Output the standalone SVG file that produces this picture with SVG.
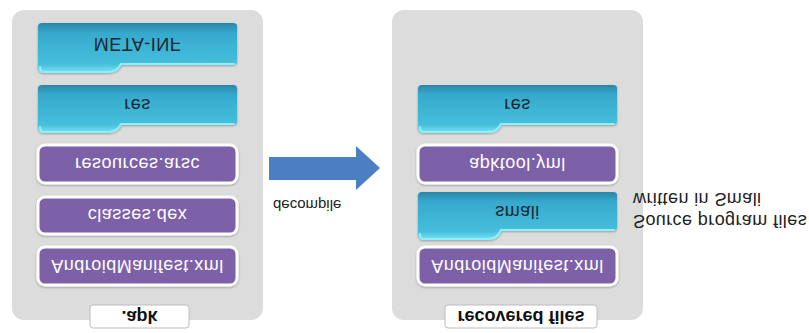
<svg xmlns="http://www.w3.org/2000/svg" width="809" height="333" viewBox="0 0 809 333">
  <style>
    .panel { fill: #dcdcdc; }
    .purple { fill: #7c60a8; stroke: #ffffff; stroke-width: 3; filter: url(#sh); }
    .cyan { fill: url(#cg); filter: url(#sh); }
    .hl { fill: none; stroke: #8ff0fb; stroke-width: 2; stroke-linecap: round; }
    .wt { font-family: "Liberation Sans", Arial, sans-serif; font-size: 18px; fill: #ffffff; text-anchor: middle; letter-spacing: 0.5px; }
    .dt { font-family: "Liberation Sans", Arial, sans-serif; font-size: 18px; fill: #1c2733; text-anchor: middle; letter-spacing: 0.5px; }
    .lbl { fill: #ffffff; stroke: #bdbdbd; stroke-width: 1; }
    .lt { font-family: "Liberation Sans", Arial, sans-serif; font-size: 18px; font-weight: bold; fill: #111; text-anchor: middle; }
    .side { font-family: "Liberation Sans", Arial, sans-serif; font-size: 18px; fill: #222; letter-spacing: 0.4px; }
    .cap { font-family: "Liberation Sans", Arial, sans-serif; font-size: 15px; fill: #222; }
  </style>
  <defs>
    <linearGradient id="cg" x1="0" y1="0" x2="0" y2="1">
      <stop offset="0" stop-color="#7fe3f3"/>
      <stop offset="0.18" stop-color="#45bfdc"/>
      <stop offset="0.8" stop-color="#36a9cc"/>
      <stop offset="1" stop-color="#2a86a8"/>
    </linearGradient>
    <filter id="sh" x="-5%" y="-10%" width="110%" height="125%">
      <feDropShadow dx="0" dy="-1" stdDeviation="1.2" flood-color="#000" flood-opacity="0.3"/>
    </filter>
  </defs>
  <rect width="809" height="333" fill="#ffffff"/>
  <g transform="matrix(1 0 0 -1 0 333)">
    <g id="apk-panel">
      <rect class="panel" x="12" y="13" width="251" height="310" rx="12"/>
    </g>
    <g id="recovered-panel">
      <rect class="panel" x="392" y="13" width="251" height="310" rx="12"/>
    </g>

    <g id="meta-inf">
      <path class="cyan" d="M44,260 L108,260 Q118,260 122,268 L233,268 Q237,268 237,272 L237,307 Q237,310 233,310 L42,310 Q38,310 38,306 L38,266 Q38,260 44,260 Z"/>
      <path class="hl" d="M40,266 Q40,261 44,261 L108,261 Q117,261 121,269 L234,269"/>
      <text class="dt" x="137.5" y="295.5">META-INF</text>
    </g>
    <g id="res-left">
      <path class="cyan" d="M44,200 L108,200 Q118,200 122,208 L233,208 Q237,208 237,212 L237,245 Q237,248 233,248 L42,248 Q38,248 38,244 L38,206 Q38,200 44,200 Z"/>
      <path class="hl" d="M40,206 Q40,201 44,201 L108,201 Q117,201 121,209 L234,209"/>
      <text class="dt" x="137.5" y="234">res</text>
    </g>
    <g id="resources-arsc">
      <rect class="purple" x="38" y="150" width="199" height="38" rx="7"/>
      <text class="wt" x="137.5" y="175.5">resources.arsc</text>
    </g>
    <g id="classes-dex">
      <rect class="purple" x="38" y="99" width="199" height="37" rx="7"/>
      <text class="wt" x="137.5" y="124">classes.dex</text>
    </g>
    <g id="manifest-left">
      <rect class="purple" x="38" y="48" width="199" height="38" rx="7"/>
      <text class="wt" x="137.5" y="73.5">AndroidManifest.xml</text>
    </g>
    <g id="apk-label">
      <rect class="lbl" x="90" y="5" width="99" height="23" rx="3"/>
      <text class="lt" x="139.5" y="22.5">.apk</text>
    </g>

    <g id="res-right">
      <path class="cyan" d="M424,200 L488,200 Q498,200 502,208 L613,208 Q617,208 617,212 L617,245 Q617,248 613,248 L422,248 Q418,248 418,244 L418,206 Q418,200 424,200 Z"/>
      <path class="hl" d="M420,206 Q420,201 424,201 L488,201 Q497,201 501,209 L614,209"/>
      <text class="dt" x="517.5" y="234">res</text>
    </g>
    <g id="apktool-yml">
      <rect class="purple" x="418" y="150" width="199" height="38" rx="7"/>
      <text class="wt" x="517.5" y="175.5">apktool.yml</text>
    </g>
    <g id="smali">
      <path class="cyan" d="M424,93 L488,93 Q498,93 502,102 L613,102 Q617,102 617,106 L617,138 Q617,141 613,141 L422,141 Q418,141 418,137 L418,99 Q418,93 424,93 Z"/>
      <path class="hl" d="M420,99 Q420,94 424,94 L488,94 Q497,94 501,103 L614,103"/>
      <text class="dt" x="517.5" y="127">smali</text>
    </g>
    <g id="manifest-right">
      <rect class="purple" x="418" y="48" width="199" height="38" rx="7"/>
      <text class="wt" x="517.5" y="73.5">AndroidManifest.xml</text>
    </g>
    <g id="recovered-label">
      <rect class="lbl" x="445" y="5" width="152" height="23" rx="3"/>
      <text class="lt" x="521" y="22.5">recovered files</text>
    </g>

    <g id="side-note">
      <text class="side" x="633" y="118">Source program files</text>
      <text class="side" x="633" y="140">written in Smali</text>
    </g>

    <g id="connectors">
      <path d="M269,153 L356,153 L356,143 L380,165 L356,187 L356,176 L269,176 Z" fill="#4a7fc2"/>
      <text class="cap" x="273" y="133">decompile</text>
    </g>
  </g>
</svg>
